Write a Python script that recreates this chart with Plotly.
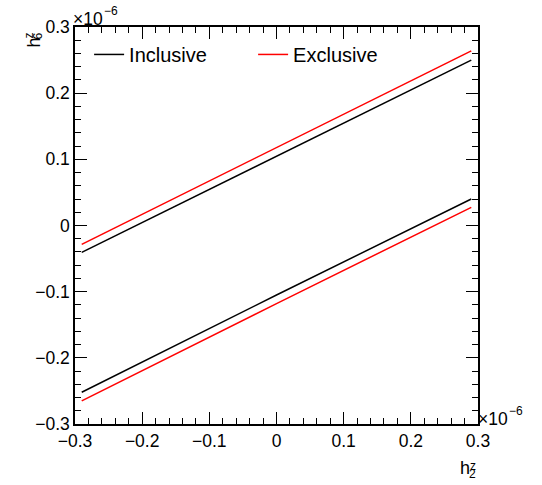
import plotly.graph_objects as go

# Data (units of 1e-6)
x_pts = [-0.29, 0.0, 0.29]
incl_upper = [-0.0405, 0.105, 0.250]
incl_lower = [-0.252, -0.105, 0.040]
excl_upper = [-0.0285, 0.118, 0.264]
excl_lower = [-0.265, -0.118, 0.0275]

tick_vals = [-0.3, -0.2, -0.1, 0.0, 0.1, 0.2, 0.3]
tick_text = ["\u22120.3", "\u22120.2", "\u22120.1", "0", "0.1", "0.2", "0.3"]

FONT = "Liberation Sans, Arial, Helvetica, sans-serif"
TICKSIZE = 17.5

fig = go.Figure()
fig.add_trace(go.Scatter(x=x_pts, y=incl_upper, mode="lines", name="Inclusive",
                         line=dict(color="black", width=1.5), legendgroup="i"))
fig.add_trace(go.Scatter(x=x_pts, y=incl_lower, mode="lines", name="Inclusive",
                         line=dict(color="black", width=1.5), legendgroup="i", showlegend=False))
fig.add_trace(go.Scatter(x=x_pts, y=excl_upper, mode="lines", name="Exclusive",
                         line=dict(color="red", width=1.5), legendgroup="e"))
fig.add_trace(go.Scatter(x=x_pts, y=excl_lower, mode="lines", name="Exclusive",
                         line=dict(color="red", width=1.5), legendgroup="e", showlegend=False))

axis_common = dict(
    range=[-0.3, 0.3], tickvals=tick_vals, ticktext=tick_text,
    ticks="inside", ticklen=12, tickwidth=1, tickcolor="black",
    showline=True, linecolor="black", linewidth=1.5, mirror="allticks",
    showgrid=False, zeroline=False,
    tickfont=dict(family=FONT, size=TICKSIZE, color="black"),
    minor=dict(ticks="inside", ticklen=6, dtick=0.02, tickwidth=1, tickcolor="black", showgrid=False),
)

W, H = 542, 485
L, R, T, B = 75, 64, 27, 61
pw, ph = W - L - R, H - T - B

fig.update_layout(
    width=W, height=H,
    margin=dict(l=L, r=R, t=T, b=B),
    paper_bgcolor="white", plot_bgcolor="white",
    font=dict(family=FONT, size=16, color="black"),
    xaxis=axis_common,
    yaxis=axis_common,
    showlegend=True,
    legend=dict(orientation="h", x=0.035, y=0.98, xanchor="left", yanchor="top",
                bgcolor="rgba(0,0,0,0)", font=dict(family=FONT, size=20, color="black"),
                entrywidth=119, entrywidthmode="pixels", tracegroupgap=0),
)


def px(xp, yp):
    return (xp - L) / pw, 1 - (yp - T) / ph


def label(xp, yp, text, size, angle=0):
    x, y = px(xp, yp)
    return dict(x=x, y=y, xref="paper", yref="paper", xanchor="center", yanchor="middle",
                text=text, textangle=angle, showarrow=False,
                font=dict(family=FONT, size=size, color="black"))


ann = []
# exponent labels
ann.append(label(88, 19, "\u00d710", TICKSIZE))
ann.append(label(110.5, 11, "\u22126", 12))
ann.append(label(493, 418.5, "\u00d710", TICKSIZE))
ann.append(label(516, 411, "\u22126", 12))
# x title h_2^z
ann.append(label(464.5, 468, "h", 18))
ann.append(label(472.5, 465.5, "z", 12))
ann.append(label(472.5, 474, "2", 12))
# y title h_6^z (rotated)
ann.append(label(33.5, 43, "h", 18, -90))
ann.append(label(28.5, 36, "z", 12, -90))
ann.append(label(37.5, 36, "6", 12, -90))

fig.update_layout(annotations=ann)

fig.write_html("out.html")
